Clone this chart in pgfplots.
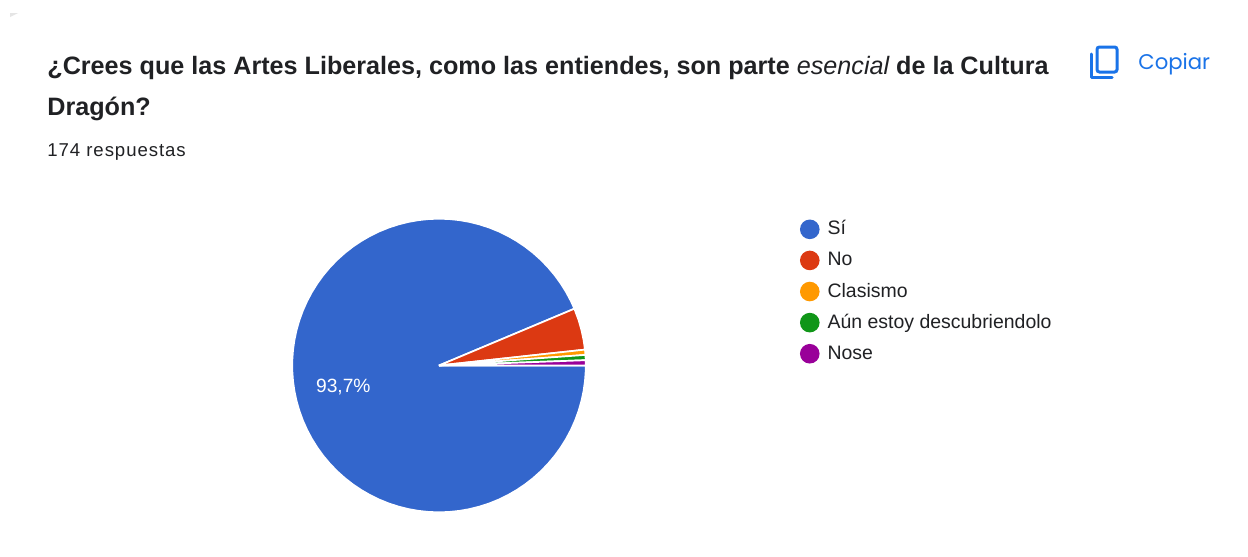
\documentclass[border=0pt]{standalone}
\usepackage{pgfplots}
\pgfplotsset{compat=1.18}
\usepackage{fontspec}
\setmainfont{Liberation Sans}
\newfontfamily\copyfont{Poppins}
\definecolor{siblue}{HTML}{3366CC}
\definecolor{nored}{HTML}{DC3912}
\definecolor{clorange}{HTML}{FF9900}
\definecolor{augreen}{HTML}{109618}
\definecolor{nopurple}{HTML}{990099}
\definecolor{ink}{HTML}{202124}
\definecolor{action}{HTML}{1A73E8}
\begin{document}
\begin{tikzpicture}
% page frame, 0.5pt per unit
\begin{scope}[x=0.5pt,y=-0.5pt]
  \path[fill=white] (0,0) rectangle (1248,557);
  \fill[black!10] (10,13) -- (18,13) -- (10,17) -- cycle;
  \node[anchor=base west,inner sep=0,text=ink,font=\fontsize{12.58pt}{14pt}\selectfont\bfseries] at (47,74)
    {¿Crees que las Artes Liberales, como las entiendes, son parte {\mdseries\itshape esencial} de la Cultura};
  \node[anchor=base west,inner sep=0,text=ink,font=\fontsize{12.58pt}{14pt}\selectfont\bfseries] at (47,115) {Dragón?};
  \node[anchor=base west,inner sep=0,text=ink,font=\fontsize{9.3pt}{11pt}\selectfont\addfontfeatures{LetterSpace=5}] at (47,156) {174 respuestas};
  \node[anchor=base west,inner sep=0,text=action,font=\copyfont\fontsize{10.6pt}{12pt}\selectfont] at (1138,69) {Copiar};
  \draw[action,line width=1.5pt,line cap=round,line join=round] (1091,54) -- (1091,77) -- (1112,77);
  \draw[action,line width=1.5pt,rounded corners=1.2pt] (1097,47) rectangle (1117,72);
\end{scope}
% pie: radius 1 in data units, slices in polar data from 163, 8, 1, 1, 1 of 174 answers
\begin{axis}[
  at={(0pt,0pt)},anchor=north west,
  width=624pt,height=278.5pt,scale only axis,
  hide axis,
  xmin=-2.9905,xmax=5.5109,ymin=-1.3045,ymax=2.4898,
  clip=false,
  legend style={draw=none,fill=none,at={(axis cs:2.459,1.0335)},anchor=north west,
    inner sep=0pt,outer sep=0pt,
    font=\fontsize{9.73pt}{11pt}\selectfont,text=ink,
    nodes={inner sep=0pt,text height=10.55pt,text depth=5pt},
    /tikz/every odd column/.append style={column sep=4pt}},
  legend cell align=left,
  legend image code/.code={\path[#1,draw=none] (0pt,0pt) circle (4.9pt);},
  every axis plot/.append style={draw=white,line width=0.85pt,line join=bevel},
]
\addplot[fill=siblue,data cs=polar] coordinates {
 (0,0) (22.76,1) (26,1) (30,1) (34,1) (38,1) (42,1) (46,1) (50,1) (54,1) (58,1) (62,1) (66,1) (70,1)
 (74,1) (78,1) (82,1) (86,1) (90,1) (94,1) (98,1) (102,1) (106,1) (110,1) (114,1) (118,1) (122,1)
 (126,1) (130,1) (134,1) (138,1) (142,1) (146,1) (150,1) (154,1) (158,1) (162,1) (166,1) (170,1)
 (174,1) (178,1) (182,1) (186,1) (190,1) (194,1) (198,1) (202,1) (206,1) (210,1) (214,1) (218,1)
 (222,1) (226,1) (230,1) (234,1) (238,1) (242,1) (246,1) (250,1) (254,1) (258,1) (262,1) (266,1)
 (270,1) (274,1) (278,1) (282,1) (286,1) (290,1) (294,1) (298,1) (302,1) (306,1) (310,1) (314,1)
 (318,1) (322,1) (326,1) (330,1) (334,1) (338,1) (342,1) (346,1) (350,1) (354,1) (358,1) (360,1)
 (0,0)} \closedcycle;
\addlegendentry{Sí}
\addplot[fill=nored,data cs=polar] coordinates {
 (0,0) (6.21,1) (10,1) (14,1) (18,1) (22.76,1) (0,0)} \closedcycle;
\addlegendentry{No}
\addplot[fill=clorange,data cs=polar] coordinates {
 (0,0) (4.14,1) (5.2,1) (6.21,1) (0,0)} \closedcycle;
\addlegendentry{Clasismo}
\addplot[fill=augreen,data cs=polar] coordinates {
 (0,0) (2.07,1) (3.1,1) (4.14,1) (0,0)} \closedcycle;
\addlegendentry{Aún estoy descubriendolo}
\addplot[fill=nopurple,data cs=polar] coordinates {
 (0,0) (0,1) (1,1) (2.07,1) (0,0)} \closedcycle;
\addlegendentry{Nose}
\node[text=white,font=\fontsize{9.6pt}{11pt}\selectfont,inner sep=0] at (axis cs:-0.652,-0.15) {93,7\%};
\end{axis}
\end{tikzpicture}
\end{document}
